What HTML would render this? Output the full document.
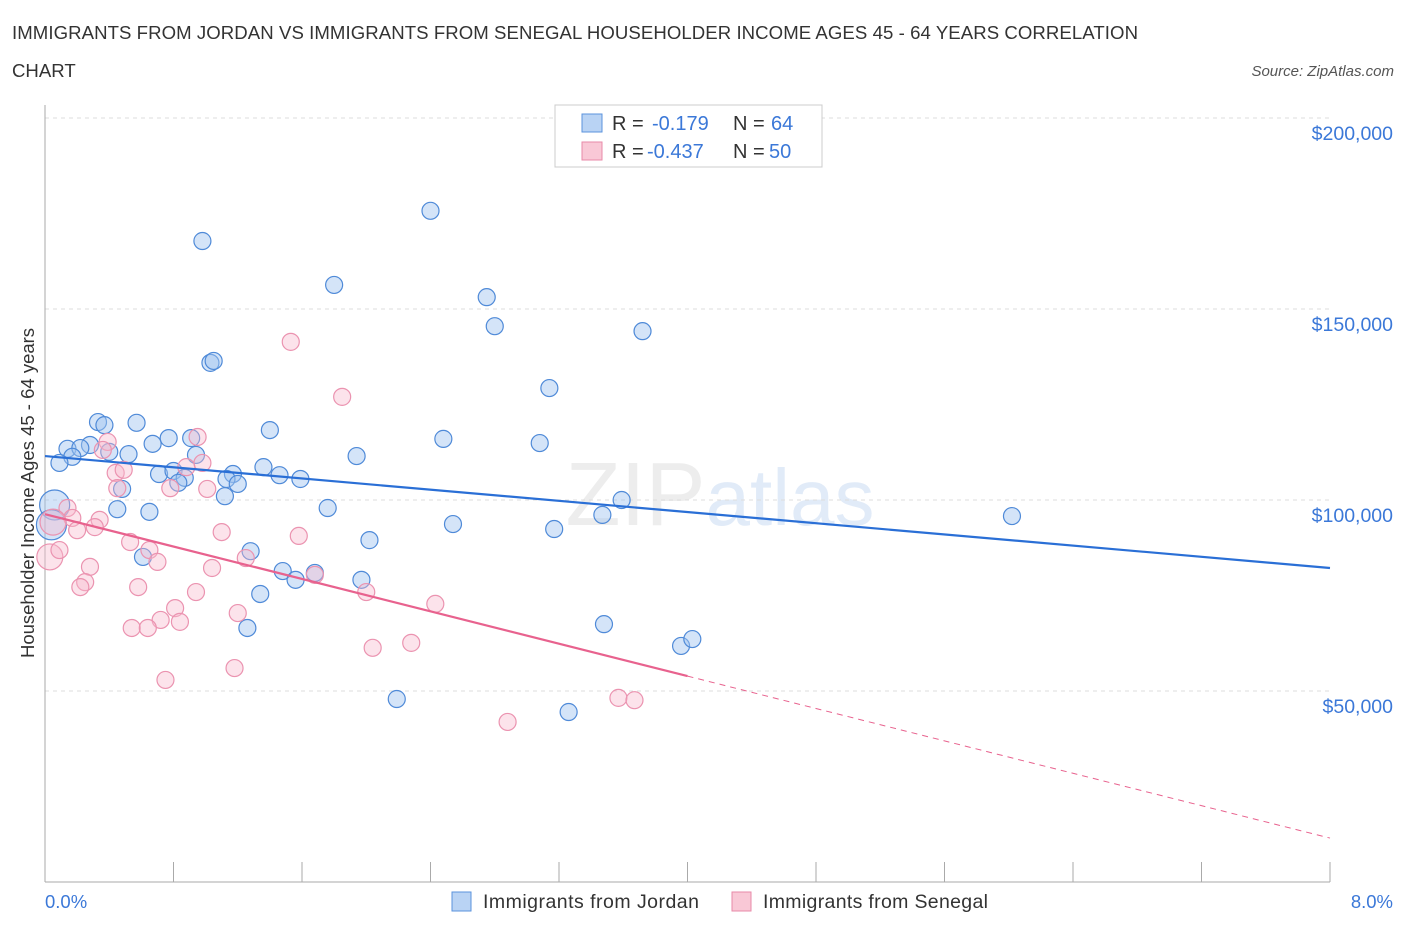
<!DOCTYPE html>
<html><head><meta charset="utf-8"><style>
body{margin:0;background:#fff;font-family:"Liberation Sans",sans-serif;}
svg text{font-family:"Liberation Sans",sans-serif;}
</style></head><body>
<svg id="chart" width="1406" height="930">
<text x="12" y="39" font-size="18.6" fill="#333" textLength="1126">IMMIGRANTS FROM JORDAN VS IMMIGRANTS FROM SENEGAL HOUSEHOLDER INCOME AGES 45 - 64 YEARS CORRELATION</text>
<text x="12" y="77" font-size="18.6" fill="#333">CHART</text>
<text x="1394" y="76" font-size="15" fill="#555" font-style="italic" text-anchor="end">Source: ZipAtlas.com</text>
<text x="720" y="525" font-size="90" fill="#ededed" text-anchor="middle" font-family="Liberation Serif">ZIP<tspan fill="#e1ebf8" font-family="Liberation Sans" font-size="80">atlas</tspan></text>
<g id="grid"></g><g id="axes"></g><g id="pts"></g><g id="lines"></g>
<text transform="translate(34,493) rotate(-90)" font-size="18.5" fill="#333" text-anchor="middle">Householder Income Ages 45 - 64 years</text>
<text x="45" y="908" font-size="18.5" fill="#3b78d8">0.0%</text>
<text x="1393" y="908" font-size="18.5" fill="#3b78d8" text-anchor="end">8.0%</text>
<g>
<rect x="555" y="105" width="267" height="62" fill="#fff" stroke="#ccc"/>
<rect x="582" y="114" width="20" height="18" fill="#b9d3f4" stroke="#5b93dd"/>
<text x="612" y="130" font-size="20" fill="#333">R =</text>
<text x="652" y="130" font-size="20" fill="#3b78d8">-0.179</text>
<text x="733" y="130" font-size="20" fill="#333">N =</text>
<text x="771" y="130" font-size="20" fill="#3b78d8">64</text>
<rect x="582" y="142" width="20" height="18" fill="#f9c8d6" stroke="#e88aa8"/>
<text x="612" y="158" font-size="20" fill="#333">R =</text>
<text x="647" y="158" font-size="20" fill="#3b78d8">-0.437</text>
<text x="733" y="158" font-size="20" fill="#333">N =</text>
<text x="769" y="158" font-size="20" fill="#3b78d8">50</text>
</g>
<g>
<rect x="452" y="892" width="19" height="19" fill="#b9d3f4" stroke="#5b93dd"/>
<text x="483" y="908" font-size="19.5" fill="#333" textLength="216">Immigrants from Jordan</text>
<rect x="732" y="892" width="19" height="19" fill="#f9c8d6" stroke="#e88aa8"/>
<text x="763" y="908" font-size="19.5" fill="#333" textLength="225">Immigrants from Senegal</text>
</g>
</svg>
<script>
const yTicks=[50000,100000,150000,200000];
const yTickLabels=["$50,000","$100,000","$150,000","$200,000"];
const jordanX=[0.98,2.40,1.80,2.75,2.80,3.72,1.03,1.05,3.14,0.33,0.37,0.57,1.40,0.77,0.91,2.48,3.08,0.14,0.28,0.22,0.67,0.40,0.52,1.94,0.17,0.94,0.09,1.36,0.71,0.80,1.17,1.46,1.59,0.87,0.83,1.13,1.20,0.48,1.12,3.59,0.06,0.45,1.76,0.65,3.47,6.02,0.04,2.54,3.17,2.02,1.28,0.61,1.48,1.56,1.68,1.97,1.34,1.26,3.48,3.96,4.03,2.19,3.26];
const jordanY=[167.8,175.7,156.3,153.1,145.5,144.2,135.9,136.4,129.3,120.4,119.6,120.2,118.3,116.2,116.2,116.0,114.9,113.4,114.4,113.6,114.7,112.6,112.0,111.5,111.3,111.8,109.7,108.6,106.8,107.6,106.8,106.5,105.5,105.8,104.5,105.5,104.2,102.9,101.0,100.0,98.7,97.6,97.9,96.9,96.1,95.8,93.5,93.7,92.4,89.5,86.6,85.1,81.4,79.1,80.9,79.1,75.4,66.5,67.5,61.8,63.6,47.9,44.5];
const senegalX=[1.53,1.85,0.39,0.36,0.95,0.98,0.88,0.44,0.49,0.45,0.78,1.01,0.14,0.17,0.20,0.05,0.34,0.31,0.53,0.65,0.70,1.10,1.58,1.25,1.04,0.28,0.25,0.22,0.58,0.94,0.81,1.68,2.00,2.04,1.20,0.72,0.84,0.54,0.64,1.18,0.75,0.03,0.09,2.43,2.28,2.88,3.57,3.67];
const senegalY=[141.4,127.0,115.2,113.1,116.5,109.7,108.6,107.1,107.9,103.1,103.1,102.9,97.9,95.3,92.1,94.2,94.8,92.9,89.0,86.9,83.8,91.6,90.6,84.8,82.2,82.5,78.5,77.2,77.2,75.9,71.7,80.4,75.9,61.3,70.4,68.6,68.1,66.5,66.5,56.0,52.9,85.1,86.9,72.8,62.6,41.9,48.2,47.6];
const jordanBig=[40,46];
const senegalBig=[15,41];
const jordanTrend=[111.5,82.2];
const senegalTrend=[96.3,11.5];
const senegalSolidEnd=4.0;
const NS='http://www.w3.org/2000/svg';
const X=p=>45+p/8*1285;
const Y=v=>500-(v-100000)/50000*191;
function mk(t,a,parent){const e=document.createElementNS(NS,t);for(const k in a)e.setAttribute(k,a[k]);document.getElementById(parent).appendChild(e);return e;}
yTicks.forEach((v,i)=>{
 const l=mk('line',{x1:45,x2:1330,y1:Y(v),y2:Y(v),stroke:'#ddd','stroke-dasharray':'4,4'},'grid');
 
 
 const t=mk('text',{x:1393,y:Y(v)+22,'font-size':19.5,fill:'#3b78d8','text-anchor':'end'},'grid');
 t.textContent=yTickLabels[i];
 
 
});
const ax=mk('line',{x1:45,x2:45,y1:105,y2:882,stroke:'#aaa'},'axes');


const bx=mk('line',{x1:45,x2:1330,y1:882,y2:882,stroke:'#aaa'},'axes');


for(let i=0;i<=10;i++){const t=mk('line',{x1:X(i*0.8),x2:X(i*0.8),y1:862,y2:882,stroke:'#aaa'},'axes');
 
 }
jordanX.forEach((x,i)=>{const c=mk('circle',{cx:X(x),cy:Y(jordanY[i]*1000),r:jordanBig.includes(i)?15:8.5,fill:'rgba(160,196,240,0.45)',stroke:'#4f8ad8','stroke-width':1.2},'pts');
 
 });
senegalX.forEach((x,i)=>{const c=mk('circle',{cx:X(x),cy:Y(senegalY[i]*1000),r:senegalBig.includes(i)?13:8.5,fill:'rgba(247,185,205,0.4)',stroke:'#eb93b0','stroke-width':1.2},'pts');
 
 });
const jl=mk('line',{x1:X(0),y1:Y(jordanTrend[0]*1000),x2:X(8),y2:Y(jordanTrend[1]*1000),stroke:'#2a6fd6','stroke-width':2.2},'lines');


const sv=x=>senegalTrend[0]+(senegalTrend[1]-senegalTrend[0])*x/8;
const sl=mk('line',{x1:X(0),y1:Y(sv(0)*1000),x2:X(senegalSolidEnd),y2:Y(sv(senegalSolidEnd)*1000),stroke:'#e8628e','stroke-width':2.2},'lines');


const sd=mk('line',{x1:X(senegalSolidEnd),y1:Y(sv(senegalSolidEnd)*1000),x2:X(8),y2:Y(sv(8)*1000),stroke:'#e8628e','stroke-width':1,'stroke-dasharray':'6,5'},'lines');


</script>
</body></html>
